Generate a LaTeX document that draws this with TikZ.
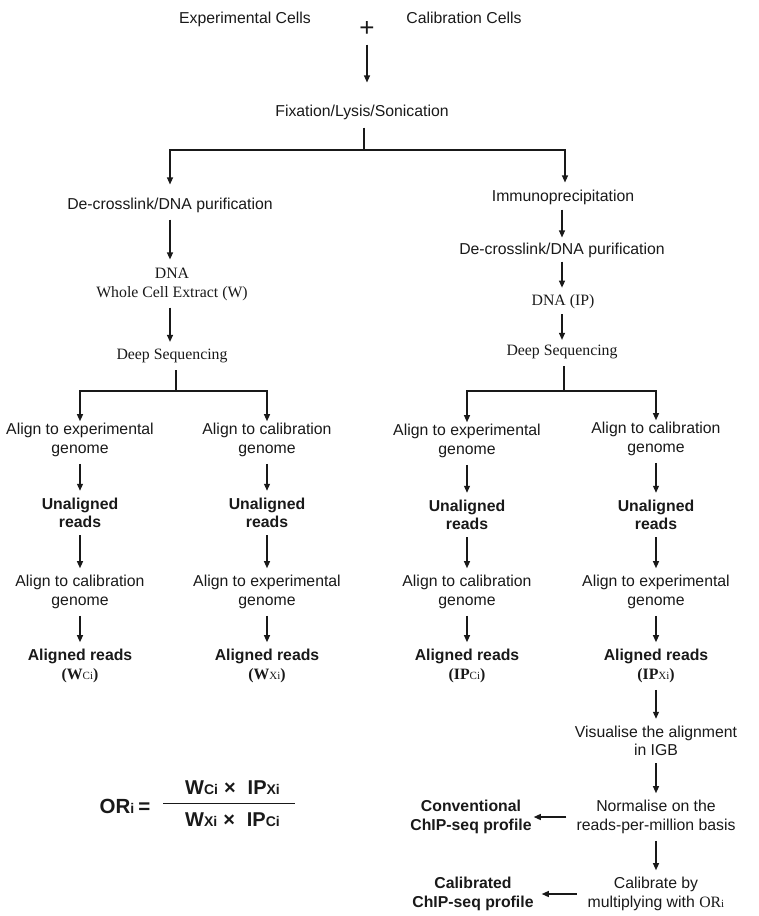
\documentclass[tikz,border=0pt]{standalone}
\usepackage{fontspec}
\setmainfont{Liberation Sans}
\newfontfamily\timesfont{Liberation Serif}
\usepackage{tikz}
\usetikzlibrary{arrows.meta}
\usepackage{xcolor}
\definecolor{flowink}{RGB}{25, 25, 25}
\begin{document}
\begin{tikzpicture}[x=1pt, y=-1pt,
    every node/.style={font=\fontsize{15.8}{18.5}\selectfont, align=center, inner sep=2pt, text=flowink},
    flow/.style={-{Triangle[length=7pt, width=6pt]}, line width=1.2pt, draw=flowink, shorten >=5pt, shorten <=5pt},
    fork/.style={-{Triangle[length=7pt, width=6pt]}, line width=1.2pt, draw=flowink}]
  \useasboundingbox (0,-2) rectangle (759,914);
  % top
  \node (exp) at (245, 17) {Experimental Cells};
  \node (cal) at (464, 16) {Calibration Cells};
  \node[font=\fontsize{26}{26}\selectfont] (plus) at (367, 27) {+};
  \node (fix) at (362, 110) {Fixation/Lysis/Sonication};
  \draw[flow, shorten <=6pt, shorten >=20pt] (plus) -- (plus |- fix.north);
  \coordinate (fixsplit) at (364, 148);
  \draw[line width=1.2pt, draw=flowink, shorten <=6pt] (fixsplit |- fix.south) -- (fixsplit);
  % whole cell extract branch
  \node (wdec) at (170, 203) {De-crosslink/DNA purification};
  \node[font=\timesfont\fontsize{15.8}{19}\selectfont] (wdna) at (172, 282) {DNA\\Whole Cell Extract (W)};
  \node[font=\timesfont\fontsize{15.8}{19}\selectfont] (wseq) at (172, 354) {Deep Sequencing};
  \draw[fork, shorten >=11pt] (fixsplit) -| (wdec.north);
  \draw[flow, shorten >=6pt] (wdec) -- (wdec |- wdna.north);
  \draw[flow] (wdec |- wdna.south) -- (wdec |- wseq.north);
  \coordinate (wsplit) at (176, 389);
  \draw[line width=1.2pt, draw=flowink, shorten <=5pt] (wsplit |- wseq.south) -- (wsplit);
  % IP branch
  \node (ip) at (563, 195) {Immunoprecipitation};
  \node (idec) at (562, 248) {De-crosslink/DNA purification};
  \node[font=\timesfont\fontsize{15.8}{19}\selectfont] (idna) at (563, 300) {DNA (IP)};
  \node[font=\timesfont\fontsize{15.8}{19}\selectfont] (iseq) at (562, 350) {Deep Sequencing};
  \draw[fork, shorten >=5pt] (fixsplit) -| (ip.north -| 565, 0);
  \draw[flow, shorten <=3pt, shorten >=3pt] (ip.south -| idec) -- (idec);
  \draw[flow, shorten <=2pt, shorten >=5pt] (idec) -- (idec |- idna.north);
  \draw[flow, shorten <=3pt, shorten >=3pt] (idec |- idna.south) -- (idec |- iseq.north);
  \coordinate (isplit) at (564, 389);
  \draw[line width=1.2pt, draw=flowink, shorten <=5pt] (isplit |- iseq.south) -- (isplit);
  % WCE columns
  \node (a1) at (80, 438) {Align to experimental\\genome};
  \node[font=\bfseries\fontsize{15.8}{18.5}\selectfont] (u1) at (80, 511) {Unaligned\\reads};
  \node (b1) at (80, 590) {Align to calibration\\genome};
  \node[font=\bfseries\fontsize{15.8}{18.5}\selectfont] (r1) at (80, 664) {Aligned reads\\{\timesfont (W{\fontsize{11}{11}\selectfont\mdseries Ci})}};
  \node (a2) at (267, 438) {Align to calibration\\genome};
  \node[font=\bfseries\fontsize{15.8}{18.5}\selectfont] (u2) at (267, 511) {Unaligned\\reads};
  \node (b2) at (267, 590) {Align to experimental\\genome};
  \node[font=\bfseries\fontsize{15.8}{18.5}\selectfont] (r2) at (267, 664) {Aligned reads\\{\timesfont (W{\fontsize{11}{11}\selectfont\mdseries Xi})}};
  \draw[fork] (wsplit) -| (a1.north);
  \draw[fork] (wsplit) -| (a2.north);
  % IP columns
  \node (a3) at (467, 439) {Align to experimental\\genome};
  \node[font=\bfseries\fontsize{15.8}{18.5}\selectfont] (u3) at (467, 513) {Unaligned\\reads};
  \node (b3) at (467, 590) {Align to calibration\\genome};
  \node[font=\bfseries\fontsize{15.8}{18.5}\selectfont] (r3) at (467, 664) {Aligned reads\\{\timesfont (IP{\fontsize{11}{11}\selectfont\mdseries Ci})}};
  \node (a4) at (656, 437) {Align to calibration\\genome};
  \node[font=\bfseries\fontsize{15.8}{18.5}\selectfont] (u4) at (656, 513) {Unaligned\\reads};
  \node (b4) at (656, 590) {Align to experimental\\genome};
  \node[font=\bfseries\fontsize{15.8}{18.5}\selectfont] (r4) at (656, 664) {Aligned reads\\{\timesfont (IP{\fontsize{11}{11}\selectfont\mdseries Xi})}};
  \draw[fork] (isplit) -| (a3.north);
  \draw[fork] (isplit) -| (a4.north);
  \foreach \col in {1,2,3,4} {
    \draw[flow] (a\col) -- (u\col);
    \draw[flow] (u\col) -- (b\col);
    \draw[flow] (b\col) -- (r\col);
  }
  % profiles
  \node (vis) at (656, 739) {Visualise the alignment\\in IGB};
  \node (norm) at (656, 815) {Normalise on the\\reads-per-million basis};
  \node (calib) at (656, 892) {Calibrate by\\multiplying with {\timesfont OR{\fontsize{11}{11}\selectfont i}}};
  \node[font=\bfseries\fontsize{15.8}{18.5}\selectfont] (conv) at (471, 815) {Conventional\\ChIP-seq profile};
  \node[font=\bfseries\fontsize{15.8}{18.5}\selectfont] (calp) at (473, 892) {Calibrated\\ChIP-seq profile};
  \draw[flow] (r4) -- (vis);
  \draw[flow] (vis) -- (norm);
  \draw[flow] (norm) -- (calib);
  \draw[flow, shorten <=8pt, shorten >=0pt] (norm) -- (conv);
  \draw[flow, shorten <=9pt, shorten >=6pt] (calib) -- (calp);
  % odds ratio
  \node[font=\bfseries\fontsize{20.5}{22}\selectfont] (orlhs) at (125, 804) {OR{\fontsize{14}{14}\selectfont i}\hspace{4pt}=};
  \node[font=\bfseries\fontsize{20}{22}\selectfont] (ratio) at (229, 804) {%
    \setlength{\arrayrulewidth}{1.3pt}%
    \begin{tabular}{@{\hspace{22pt}}c@{\hspace{15pt}}}
      W{\fontsize{14}{14}\selectfont Ci}\hspace{6pt}×\hspace{12pt}IP{\fontsize{14}{14}\selectfont Xi}\\[2pt]
      \hline
      \rule{0pt}{22pt}W{\fontsize{14}{14}\selectfont Xi}\hspace{6pt}×\hspace{12pt}IP{\fontsize{14}{14}\selectfont Ci}
    \end{tabular}};
\end{tikzpicture}
\end{document}
